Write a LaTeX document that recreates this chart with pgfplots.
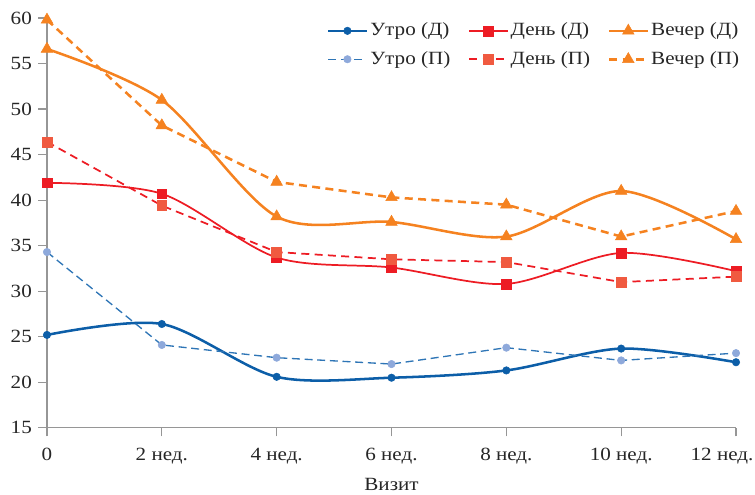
\documentclass[border=0pt]{standalone}
\usepackage{fontspec}
\setmainfont{Liberation Serif}[FakeStretch=1.13]
\usepackage{pgfplots}
\pgfplotsset{compat=1.18}

\definecolor{mornD}{RGB}{12,94,168}
\definecolor{mornPline}{RGB}{46,117,182}
\definecolor{mornPmark}{RGB}{142,169,219}
\definecolor{dayD}{RGB}{237,28,36}
\definecolor{dayPmark}{RGB}{240,90,64}
\definecolor{eve}{RGB}{245,130,32}
\definecolor{axisgray}{RGB}{150,150,150}

\newcommand{\chartfont}{\fontsize{14}{16}\selectfont}

\begin{document}
\chartfont
\begin{tikzpicture}
\begin{axis}[
  scale only axis,
  width=517pt, height=307.5pt,
  xmin=0, xmax=6, ymin=15, ymax=60,
  clip=false,
  axis x line=bottom, axis y line=left,
  axis line style={-, axisgray, line width=0.9pt},
  xtick={0,...,6},
  xticklabels={0, 2 нед., 4 нед., 6 нед., 8 нед., 10 нед., 12 нед.\hspace*{21pt}},
  ytick={15,20,...,60},
  tick align=outside,
  major tick length=6.5pt,
  tick style={axisgray, line width=0.9pt},
  /pgf/number format/assume math mode=true,
  tick label style={font=\chartfont, text=black!85},
  xticklabel style={yshift=-4pt},
  xlabel={Визит},
  xlabel style={font=\chartfont, text=black!85, yshift=-1pt},
  legend columns=3,
  legend cell align=left,
  legend style={
    at={(0.4063,0.995)}, anchor=north west,
    draw=none, fill=none,
    inner xsep=0pt, inner ysep=0pt,
    font=\chartfont,
    text=black!85,
    nodes={inner xsep=2pt},
    /tikz/every even column/.append style={column sep=11.5pt},
    row sep=5.5pt,
  },
  legend image code/.code={
    \draw[mark repeat=2, mark phase=2]
      plot coordinates {(0cm,0cm) (0.5cm,0cm) (1.0cm,0cm)};
  },
]
% Д series: smoothed solid lines
\addplot[mornD, line width=1.9pt, smooth, mark=*, mark size=2.8pt,
  mark options={solid, line width=0.4pt}]
  coordinates {(0,25.2) (1,26.4) (2,20.6) (3,20.5) (4,21.3) (5,23.7) (6,22.2)};
\addlegendentry{Утро (Д)}
\addplot[dayD, line width=1.3pt, smooth, mark=square*, mark size=3.7pt,
  mark options={solid, line width=0.4pt}]
  coordinates {(0,41.9) (1,40.7) (2,33.7) (3,32.6) (4,30.8) (5,34.2) (6,32.2)};
\addlegendentry{День (Д)}
\addplot[eve, line width=1.9pt, smooth, mark=triangle*, mark size=5pt,
  mark options={solid, line width=0.4pt}]
  coordinates {(0,56.6) (1,51.0) (2,38.2) (3,37.6) (4,36.0) (5,41.0) (6,35.7)};
\addlegendentry{Вечер (Д)}
% П series: straight dashed lines
\addplot[mornPline, line width=1pt, dash pattern=on 6pt off 3.5pt,
  mark=*, mark size=2.8pt,
  mark options={solid, line width=0.4pt, fill=mornPmark, draw=mornPmark}]
  coordinates {(0,34.3) (1,24.1) (2,22.7) (3,22.0) (4,23.8) (5,22.4) (6,23.2)};
\addlegendentry{Утро (П)}
\addplot[dayD, line width=1.3pt, dash pattern=on 6pt off 4pt,
  mark=square*, mark size=3.7pt,
  mark options={solid, line width=0.4pt, fill=dayPmark, draw=dayPmark}]
  coordinates {(0,46.4) (1,39.4) (2,34.3) (3,33.5) (4,33.2) (5,31.0) (6,31.6)};
\addlegendentry{День (П)}
\addplot[eve, line width=1.9pt, dash pattern=on 6pt off 4pt,
  mark=triangle*, mark size=5pt,
  mark options={solid, line width=0.4pt}]
  coordinates {(0,59.8) (1,48.2) (2,42.0) (3,40.3) (4,39.5) (5,36.0) (6,38.8)};
\addlegendentry{Вечер (П)}
\end{axis}
\pgfresetboundingbox
\path ([xshift=-35.25pt, yshift=-50.25pt]current axis.south west)
  rectangle ([xshift=14.25pt, yshift=13.5pt]current axis.north east);
\end{tikzpicture}
\end{document}
